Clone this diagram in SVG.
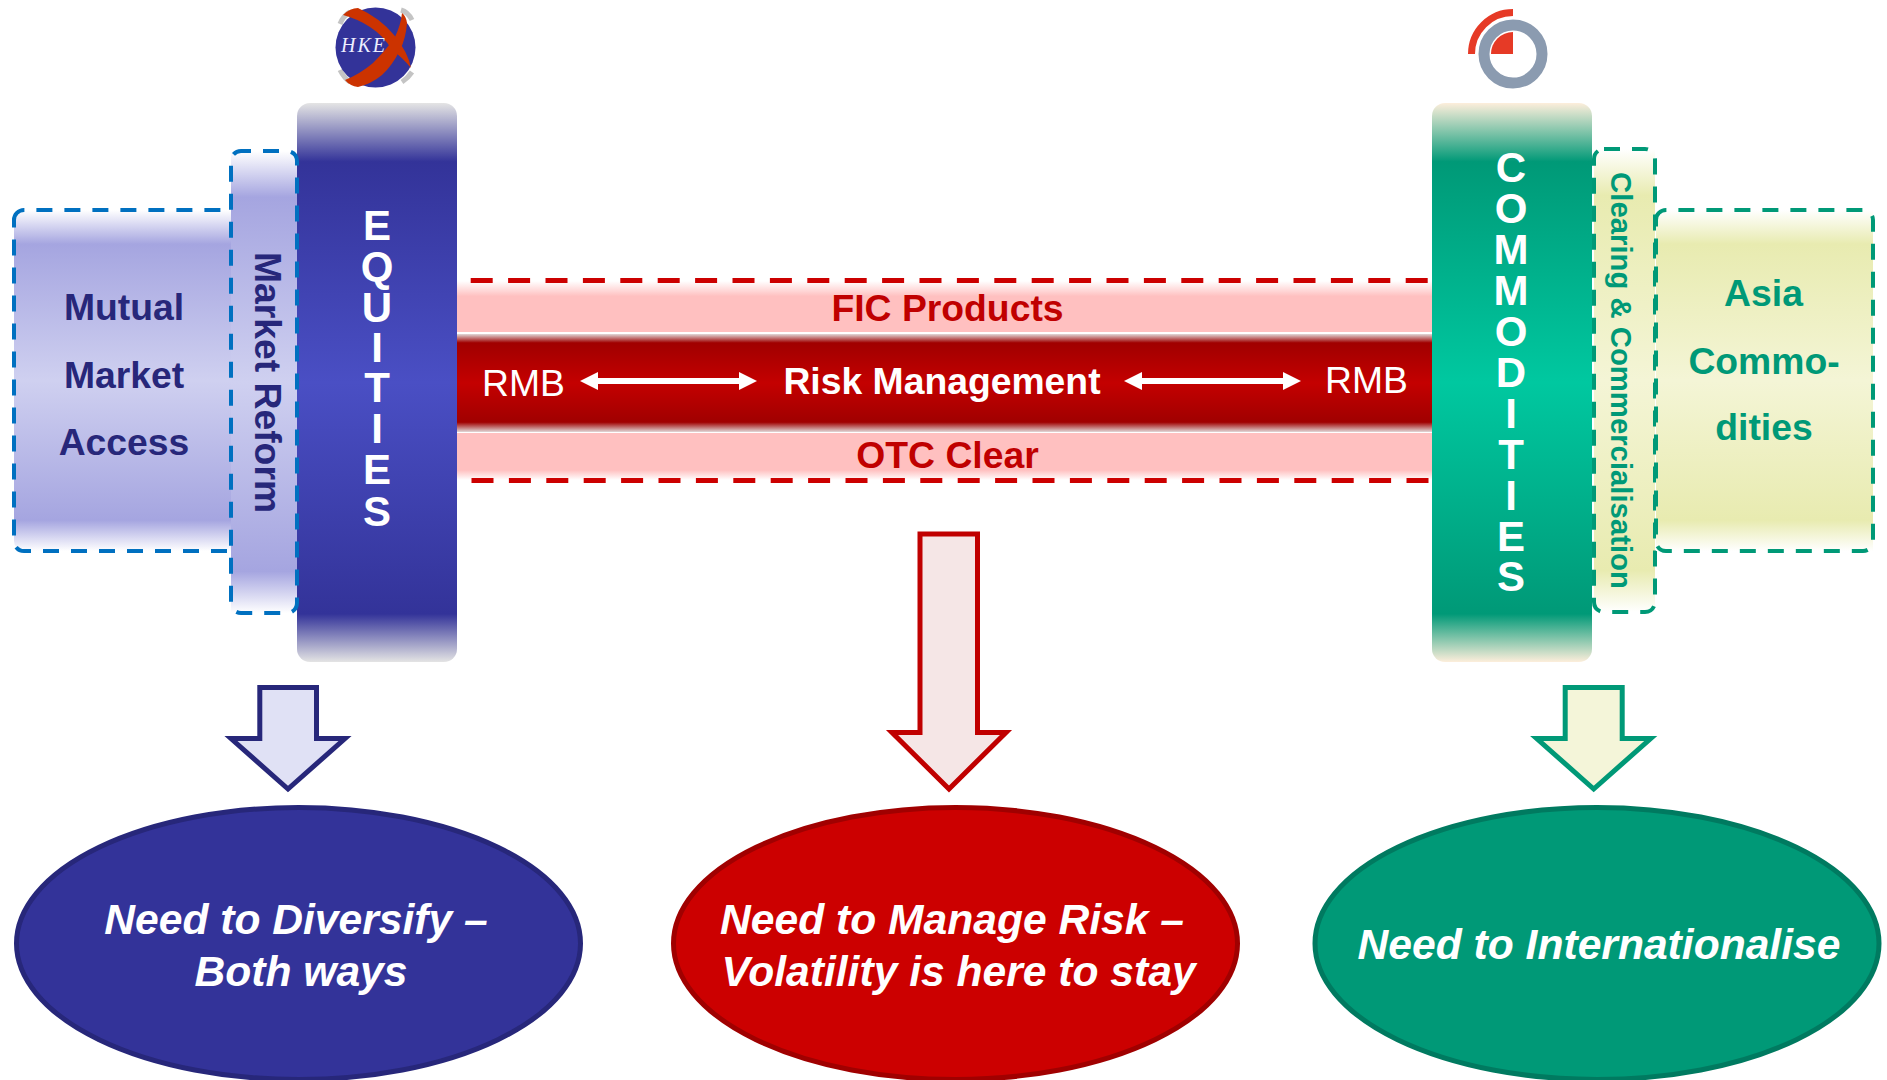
<svg xmlns="http://www.w3.org/2000/svg" width="1887" height="1080" viewBox="0 0 1887 1080">
<style>
text{font-family:"Liberation Sans",Arial,sans-serif;font-weight:700}
.blue{stroke:#0070c0;stroke-width:4;stroke-dasharray:16 12;fill:none}
.green{stroke:#009977;stroke-width:4;stroke-dasharray:16 12;fill:none}
.red{stroke:#cc0000;stroke-width:5;stroke-dasharray:22 15.4;fill:none}
.navy{fill:#27277a}.teal{fill:#009977}.crim{fill:#c00000}.wh{fill:#fff}
.el{font-style:italic;font-size:42.600px;fill:#fff;text-anchor:middle}
.mid{text-anchor:middle}
.lbl{font-size:37.300px}
.col{font-size:42px}
</style>
<defs>
<linearGradient id="eq" gradientUnits="userSpaceOnUse" x1="0" y1="103" x2="0" y2="662">
<stop offset="0" stop-color="#e4e4e4"/><stop offset=".105" stop-color="#333399"/><stop offset=".5" stop-color="#4a4fc4"/><stop offset=".914" stop-color="#333399"/><stop offset="1" stop-color="#e4e4e4"/></linearGradient>
<linearGradient id="co" gradientUnits="userSpaceOnUse" x1="0" y1="103" x2="0" y2="662">
<stop offset="0" stop-color="#fdeedb"/><stop offset=".105" stop-color="#009977"/><stop offset=".5" stop-color="#00c8a0"/><stop offset=".914" stop-color="#009977"/><stop offset="1" stop-color="#fdeedb"/></linearGradient>
<linearGradient id="lb1" x1="0" y1="0" x2="0" y2="1"><stop offset="0" stop-color="#fff"/><stop offset=".1" stop-color="#a5a5e0"/><stop offset=".5" stop-color="#cfd0f0"/><stop offset=".91" stop-color="#a5a5e0"/><stop offset="1" stop-color="#fff"/></linearGradient>
<linearGradient id="lg1" x1="0" y1="0" x2="0" y2="1"><stop offset="0" stop-color="#fff"/><stop offset=".1" stop-color="#e8ebb0"/><stop offset=".5" stop-color="#f4f5d6"/><stop offset=".91" stop-color="#e8ebb0"/><stop offset="1" stop-color="#fff"/></linearGradient>
<linearGradient id="pk" x1="0" y1="0" x2="0" y2="1"><stop offset="0" stop-color="#fff"/><stop offset=".3" stop-color="#ffc0c0"/><stop offset="1" stop-color="#ffc0c0"/></linearGradient>
<linearGradient id="pk2" x1="0" y1="0" x2="0" y2="1"><stop offset="0" stop-color="#ffc0c0"/><stop offset=".79" stop-color="#ffc0c0"/><stop offset="1" stop-color="#fff"/></linearGradient>
<linearGradient id="rb" x1="0" y1="0" x2="0" y2="1"><stop offset="0" stop-color="#e0d8d8"/><stop offset=".09" stop-color="#a00000"/><stop offset=".5" stop-color="#c40000"/><stop offset=".9" stop-color="#a00000"/><stop offset="1" stop-color="#e0d8d8"/></linearGradient>
<marker id="ah" markerUnits="userSpaceOnUse" markerWidth="18" markerHeight="18" refX="0" refY="9" orient="auto-start-reverse"><path d="M0 0L18 9L0 18Z" fill="#fff"/></marker>
</defs>

<g id="equities">
<rect x="297" y="103" width="160" height="559" rx="13" fill="url(#eq)"/>
<text class="wh mid col" x="377 377 377 377 377 377 377 377" y="240 281 322 362 402 443 484 526">EQUITIES</text>
</g>
<g id="commodities">
<rect x="1432" y="103" width="160" height="559" rx="13" fill="url(#co)"/>
<text class="wh mid col" x="1511 1511 1511 1511 1511 1511 1511 1511 1511 1511 1511" y="182 223 264 305 346 387 428 469 510 551 591">COMMODITIES</text>
</g>
<g id="mutual-market-access">
<path d="M14 220A10 10 0 0 1 24 210H231V551H24A10 10 0 0 1 14 541Z" fill="url(#lb1)" stroke="none"/>
<path d="M14 220A10 10 0 0 1 24 210H231" class="blue"/>
<path d="M227 551H24A10 10 0 0 1 14 541V220" class="blue"/>
<text class="navy mid lbl" x="124" y="320">Mutual</text>
<text class="navy mid lbl" x="124" y="388">Market</text>
<text class="navy mid lbl" x="124" y="455">Access</text>
</g>
<g id="market-reform">
<rect x="231" y="151" width="66" height="462" fill="url(#lb1)"/>
<rect x="231" y="151" width="66" height="462" rx="10" class="blue" stroke-dashoffset="6"/>
<text class="navy mid lbl" transform="translate(255,382.500) rotate(90)">Market Reform</text>
</g>
<g id="fic-band">
<rect x="457" y="281" width="975" height="51" fill="url(#pk)"/>
<rect x="457" y="433" width="975" height="47" fill="url(#pk2)"/>
<rect x="457" y="334" width="975" height="98" fill="url(#rb)"/>
<line x1="470.700" y1="280.500" x2="1432" y2="280.500" class="red"/>
<line x1="471.500" y1="480.500" x2="1432" y2="480.500" class="red"/>
<text class="crim mid lbl" x="947.500" y="321">FIC Products</text>
<text class="crim mid lbl" x="947.500" y="468">OTC Clear</text>
<text class="wh lbl" x="482" y="396" style="font-weight:400">RMB</text>
<text class="wh mid lbl" x="942" y="394">Risk Management</text>
<text class="wh lbl" x="1325" y="393" style="font-weight:400">RMB</text>
</g>
<g id="clearing">
<rect x="1594" y="149" width="61" height="463" fill="url(#lg1)"/>
<rect x="1594" y="149" width="61" height="463" rx="10" class="green"/>
<text class="teal mid" transform="translate(1610.500,380.500) rotate(90)" font-size="29.300">Clearing &amp; Commercialisation</text>
</g>
<g id="asia-commodities">
<rect x="1656" y="210" width="217" height="341" fill="url(#lg1)"/>
<path d="M1656 220A10 10 0 0 1 1666 210H1863A10 10 0 0 1 1873 220V541A10 10 0 0 1 1863 551H1666A10 10 0 0 1 1656 541Z" class="green"/>
<text class="teal mid lbl" x="1763.500" y="306">Asia</text>
<text class="teal mid lbl" x="1764" y="374">Commo-</text>
<text class="teal mid lbl" x="1764" y="440">dities</text>
</g>

<g id="hkex-logo">
<path d="M340 24Q343 16 350 12M401 10Q408 12 412 20M340 70Q344 78 350 82M402 82Q408 78 412 72" fill="none" stroke="#c4c4c4" stroke-width="5"/>
<circle cx="375.500" cy="47.500" r="40" fill="#333399"/>
<path d="M343 15Q350 8 358 8Q380 18 394 35Q408 52 411 68Q402 57 392 50Q384 36 370 27Q358 19 343 15Z" fill="#cc3300"/>
<path d="M402 13Q406 16 407 23Q406 38 400 50Q392 66 382 75Q371 84 358 87Q350 86 345 80Q360 74 373 63Q386 50 395 37Q401 24 402 13Z" fill="#cc3300"/>
<text x="341" y="52" font-size="20" letter-spacing="2" fill="#eeeeff" style="font-family:'Liberation Serif',serif;font-weight:400;font-style:italic">HKE</text>
</g>
<g id="lme-logo">
<circle cx="1513" cy="54" r="29" fill="none" stroke="#8b9bb0" stroke-width="11"/>
<path d="M1513 32V54H1491A22 22 0 0 1 1513 32Z" fill="#e63a26"/>
<path d="M1471.500 54A41.500 41.500 0 0 1 1513 12.500" fill="none" stroke="#e63a26" stroke-width="7"/>
</g>

<g id="connectors">
<line x1="598" y1="381" x2="739" y2="381" stroke="#fff" stroke-width="6" marker-end="url(#ah)" marker-start="url(#ah)"/>
<line x1="1142" y1="381" x2="1283" y2="381" stroke="#fff" stroke-width="6" marker-end="url(#ah)" marker-start="url(#ah)"/>
<path d="M259.800 687.500H316.500V738.500H345L288 789L231 738.500H259.800Z" fill="#e0e1f5" stroke="#27277a" stroke-width="5"/>
<path d="M920 534H977.500V732.500H1006L949 789L892 732.500H920Z" fill="#f5e6e6" stroke="#c00000" stroke-width="5"/>
<path d="M1565.200 687.500H1622.200V738.500H1650.700L1593.700 789L1536.700 738.500H1565.200Z" fill="#f4f5d9" stroke="#009977" stroke-width="5"/>
</g>

<g id="need-diversify">
<ellipse cx="298.500" cy="943.500" rx="282" ry="136" fill="#333399" stroke="#27277a" stroke-width="5"/>
<text class="el" x="296" y="934">Need to Diversify –</text>
<text class="el" x="301" y="986">Both ways</text>
</g>
<g id="need-risk">
<ellipse cx="955.500" cy="943.500" rx="282" ry="136" fill="#cc0000" stroke="#a00000" stroke-width="5"/>
<text class="el" x="952" y="934">Need to Manage Risk –</text>
<text class="el" x="958.500" y="986">Volatility is here to stay</text>
</g>
<g id="need-intl">
<ellipse cx="1597" cy="943.500" rx="282" ry="136" fill="#009977" stroke="#007a60" stroke-width="5"/>
<text class="el" x="1599" y="959">Need to Internationalise</text>
</g>
</svg>
